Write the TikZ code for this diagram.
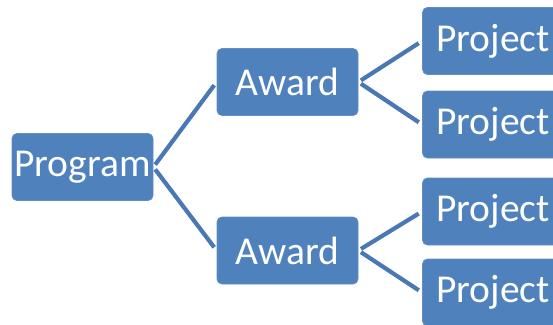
\documentclass[tikz,border=0pt]{standalone}
\usepackage{fontspec}
\setmainfont{Carlito}
\definecolor{boxblue}{HTML}{4F81BD}
\definecolor{lineblue}{HTML}{4A78B4}
\begin{document}
\begin{tikzpicture}[x=1pt,y=-1pt,
  box/.style={draw=boxblue!90!white, line width=0.8pt, fill=boxblue, rounded corners=5pt, text=white,
    minimum width=141pt, minimum height=67pt, inner sep=0pt, font=\fontsize{39.5}{42}\selectfont},
  conn/.style={draw=lineblue, line width=4.2pt, shorten <=3pt, shorten >=4pt}]
\clip (0,0) rectangle (553,324);
\useasboundingbox (0,0) rectangle (553,324);
\fill[white] (0,0) rectangle (553,324);
\node[box] (prog) at (82.5,167) {Program};
\node[box] (aw1) at (287.5,82) {Award};
\node[box] (aw2) at (287.5,250.5) {Award};
\node[box] (p1) at (493,41) {Project};
\node[box] (p2) at (493,124.5) {Project};
\node[box] (p3) at (493,211.5) {Project};
\node[box] (p4) at (493,292.5) {Project};
\draw[conn] (prog.east) -- (aw1.west);
\draw[conn] (prog.east) -- (aw2.west);
\draw[conn] (aw1.east) -- (p1.west);
\draw[conn] (aw1.east) -- (p2.west);
\draw[conn] (aw2.east) -- (p3.west);
\draw[conn] (aw2.east) -- (p4.west);
\end{tikzpicture}
\end{document}
